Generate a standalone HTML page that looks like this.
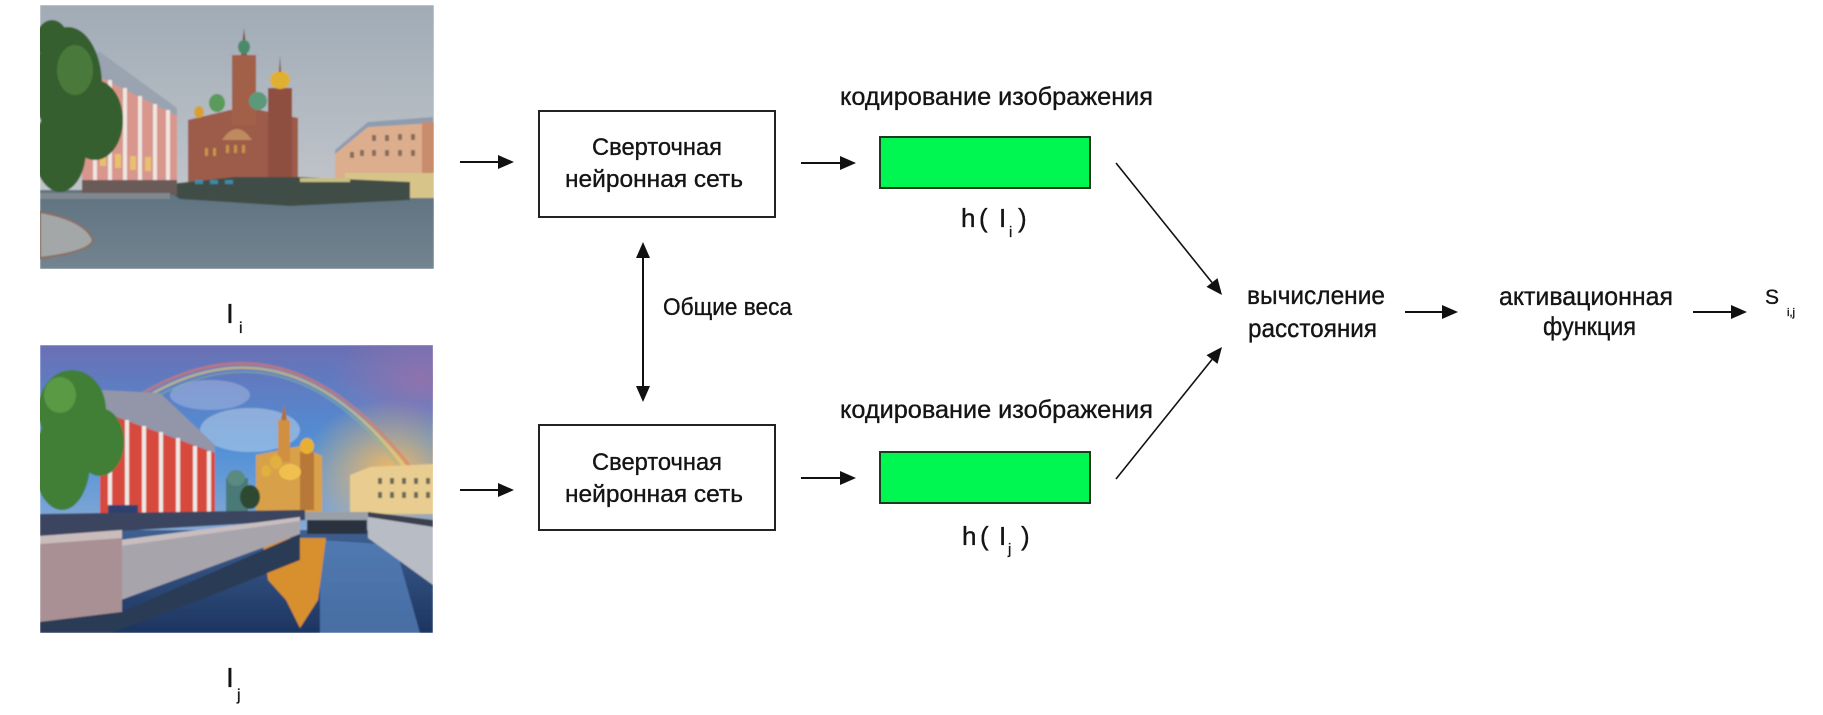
<!DOCTYPE html>
<html>
<head>
<meta charset="utf-8">
<style>
html,body{margin:0;padding:0;background:#fff;}
body{width:1823px;height:715px;overflow:hidden;}
svg{display:block;}
text{font-family:"Liberation Sans","DejaVu Sans",sans-serif;fill:#141414;stroke:#141414;stroke-width:0.35;}
</style>
</head>
<body>
<svg width="1823" height="715" viewBox="0 0 1823 715" xmlns="http://www.w3.org/2000/svg">
<defs>
  <clipPath id="c1"><rect x="40" y="5" width="394" height="264"/></clipPath>
  <clipPath id="c2"><rect x="40" y="345" width="393" height="288"/></clipPath>
  <linearGradient id="sky1" x1="0" y1="0" x2="0" y2="1">
    <stop offset="0" stop-color="#a0abb6"/>
    <stop offset="0.7" stop-color="#c0c4ca"/>
    <stop offset="1" stop-color="#d2cbc8"/>
  </linearGradient>
  <linearGradient id="gr1" x1="0" y1="0" x2="0" y2="1">
    <stop offset="0" stop-color="#5f7280"/>
    <stop offset="1" stop-color="#72848f"/>
  </linearGradient>
  <linearGradient id="sky2" x1="0" y1="0" x2="0" y2="1">
    <stop offset="0" stop-color="#6a6fb4"/>
    <stop offset="0.35" stop-color="#4f8fd6"/>
    <stop offset="0.75" stop-color="#9ab4d6"/>
    <stop offset="1" stop-color="#e0c0a0"/>
  </linearGradient>
  <radialGradient id="sun2" cx="0.5" cy="0.5" r="0.5">
    <stop offset="0" stop-color="#f6b860" stop-opacity="0.95"/>
    <stop offset="1" stop-color="#f6b860" stop-opacity="0"/>
  </radialGradient>
  <radialGradient id="pur2" cx="0.5" cy="0.5" r="0.5">
    <stop offset="0" stop-color="#9a70a8" stop-opacity="0.8"/>
    <stop offset="1" stop-color="#9a70a8" stop-opacity="0"/>
  </radialGradient>
  <linearGradient id="wat2" x1="0" y1="0" x2="0" y2="1">
    <stop offset="0" stop-color="#3d5f90"/>
    <stop offset="1" stop-color="#1d3460"/>
  </linearGradient>
  <filter id="soft"><feGaussianBlur stdDeviation="0.8"/></filter>
</defs>

<!-- Photo 1 -->
<g clip-path="url(#c1)" filter="url(#soft)">
  <rect x="40" y="5" width="394" height="264" fill="url(#sky1)"/>
  <rect x="40" y="190" width="394" height="79" fill="url(#gr1)"/>
  <polygon points="335,150 368,122 433,117 433,180 335,180" fill="#dcae8e"/>
  <polygon points="335,150 368,122 433,117 433,123 368,127 335,154" fill="#8e9cb0"/>
  <g fill="#8a6a5a">
    <rect x="372" y="135" width="4" height="6"/><rect x="385" y="135" width="4" height="6"/><rect x="398" y="134" width="4" height="6"/><rect x="411" y="134" width="4" height="6"/>
    <rect x="372" y="150" width="4" height="6"/><rect x="385" y="150" width="4" height="6"/><rect x="398" y="150" width="4" height="6"/><rect x="411" y="150" width="4" height="6"/>
    <rect x="350" y="152" width="4" height="6"/><rect x="360" y="150" width="4" height="6"/>
  </g>
  <rect x="422" y="122" width="12" height="55" fill="#c98c6c"/>
  <rect x="345" y="173" width="89" height="25" fill="#d7c489"/>
  <polygon points="188,120 230,110 260,110 298,118 298,182 188,182" fill="#9c5b48"/>
  <rect x="232" y="55" width="24" height="70" fill="#a2604a"/>
  <polygon points="241,55 244,28 247,55" fill="#7a5040"/>
  <ellipse cx="244" cy="47" rx="6" ry="7" fill="#4a8a6a"/>
  <rect x="268" y="88" width="24" height="94" fill="#8f5040"/>
  <ellipse cx="280" cy="80" rx="10" ry="9" fill="#e0b030"/>
  <polygon points="279,72 280,55 281,72" fill="#7a5040"/>
  <ellipse cx="217" cy="103" rx="8" ry="9" fill="#5a9a5a"/>
  <ellipse cx="258" cy="101" rx="9" ry="9" fill="#5a9a7a"/>
  <ellipse cx="199" cy="112" rx="5" ry="6" fill="#d8a030"/>
  <path d="M222,140 Q237,118 252,140 Z" fill="#c08a60"/>
  <g fill="#c9944a"><rect x="226" y="145" width="3" height="8"/><rect x="234" y="145" width="3" height="8"/><rect x="242" y="145" width="3" height="8"/><rect x="205" y="148" width="3" height="8"/><rect x="213" y="148" width="3" height="8"/></g>
  <polygon points="160,185 235,177 300,177 410,182 410,200 290,206 180,199" fill="#3f4d47"/>
  <g fill="#3a8aa8"><rect x="195" y="180" width="8" height="4"/><rect x="210" y="180" width="8" height="4"/><rect x="225" y="180" width="8" height="4"/></g>
  <rect x="300" y="178" width="50" height="4" fill="#c8c080"/>
  <polygon points="82,55 100,52 177,108 177,116 82,68" fill="#9aa3b0"/>
  <polygon points="82,68 177,116 177,194 82,194" fill="#d8968d"/>
  <g stroke="#efe6e0" stroke-width="4">
    <line x1="95" y1="72" x2="95" y2="194"/><line x1="110" y1="80" x2="110" y2="194"/><line x1="125" y1="88" x2="125" y2="194"/>
    <line x1="140" y1="96" x2="140" y2="194"/><line x1="155" y1="104" x2="155" y2="194"/><line x1="168" y1="110" x2="168" y2="194"/>
  </g>
  <g fill="#e8c070"><rect x="100" y="152" width="6" height="14"/><rect x="115" y="154" width="6" height="14"/><rect x="130" y="156" width="6" height="14"/><rect x="145" y="157" width="6" height="14"/></g>
  <rect x="82" y="180" width="95" height="15" fill="#6a5a58"/>
  <g fill="#355f2e">
    <ellipse cx="68" cy="85" rx="34" ry="58"/>
    <ellipse cx="95" cy="120" rx="28" ry="40"/>
    <ellipse cx="60" cy="150" rx="26" ry="42"/>
    <ellipse cx="52" cy="40" rx="16" ry="20"/>
  </g>
  <ellipse cx="75" cy="70" rx="18" ry="25" fill="#4a7a3a"/>
  <path d="M40,212 Q85,220 93,240 Q90,252 40,258 Z" fill="#a3a7a8" stroke="#8c6d60" stroke-width="2"/>
  <rect x="40" y="193" width="130" height="6" fill="#7f888e"/>
</g>

<!-- Photo 2 -->
<g clip-path="url(#c2)" filter="url(#soft)">
  <rect x="40" y="345" width="393" height="288" fill="url(#sky2)"/>
  <ellipse cx="420" cy="380" rx="90" ry="60" fill="url(#pur2)"/>
  <ellipse cx="390" cy="470" rx="90" ry="70" fill="url(#sun2)"/>
  <ellipse cx="250" cy="430" rx="50" ry="22" fill="#d0e0f0" opacity="0.45"/>
  <ellipse cx="210" cy="395" rx="40" ry="15" fill="#c8d8ee" opacity="0.35"/>
  <path d="M135,398 Q290,300 420,480" fill="none" stroke="#e87860" stroke-width="3" opacity="0.6"/>
  <path d="M138,402 Q290,305 416,482" fill="none" stroke="#f0d870" stroke-width="3" opacity="0.55"/>
  <path d="M141,406 Q290,310 412,484" fill="none" stroke="#80c0a0" stroke-width="2" opacity="0.45"/>
  <polygon points="350,475 370,467 433,464 433,514 350,514" fill="#e8cc90"/>
  <g fill="#6a6a5a"><rect x="378" y="478" width="4" height="6"/><rect x="390" y="478" width="4" height="6"/><rect x="402" y="478" width="4" height="6"/><rect x="414" y="478" width="4" height="6"/><rect x="426" y="478" width="4" height="6"/>
  <rect x="378" y="492" width="4" height="6"/><rect x="390" y="492" width="4" height="6"/><rect x="402" y="492" width="4" height="6"/><rect x="414" y="492" width="4" height="6"/><rect x="426" y="492" width="4" height="6"/></g>
  <polygon points="256,455 300,446 322,456 322,514 256,514" fill="#d8a04a"/>
  <rect x="278" y="420" width="12" height="42" fill="#d09040"/>
  <polygon points="281,420 284,404 287,420" fill="#b07030"/>
  <rect x="300" y="452" width="14" height="58" fill="#b87838"/>
  <ellipse cx="307" cy="446" rx="7" ry="8" fill="#e8b030"/>
  <ellipse cx="276" cy="462" rx="6" ry="7" fill="#e0b040"/>
  <ellipse cx="266" cy="471" rx="5" ry="6" fill="#e0b040"/>
  <ellipse cx="290" cy="472" rx="11" ry="8" fill="#f0c050"/>
  <rect x="226" y="478" width="22" height="38" fill="#4a7a78"/>
  <ellipse cx="236" cy="478" rx="9" ry="8" fill="#5a8a80"/>
  <ellipse cx="250" cy="497" rx="10" ry="12" fill="#2f4a30"/>
  <polygon points="100,390 160,393 215,445 215,453 100,411" fill="#9296a8"/>
  <polygon points="100,411 215,453 215,520 100,520" fill="#d8483c"/>
  <g stroke="#efe8e6" stroke-width="4">
    <line x1="110" y1="414" x2="110" y2="520"/><line x1="127" y1="420" x2="127" y2="520"/><line x1="144" y1="426" x2="144" y2="520"/>
    <line x1="161" y1="432" x2="161" y2="520"/><line x1="178" y1="438" x2="178" y2="520"/><line x1="195" y1="446" x2="195" y2="520"/><line x1="209" y1="451" x2="209" y2="520"/>
  </g>
  <rect x="108" y="505" width="30" height="15" fill="#2e4070"/>
  <g fill="#3f7f35">
    <ellipse cx="72" cy="410" rx="34" ry="40"/>
    <ellipse cx="62" cy="462" rx="28" ry="48"/>
    <ellipse cx="100" cy="442" rx="24" ry="34"/>
  </g>
  <ellipse cx="60" cy="395" rx="16" ry="18" fill="#5a9a45"/>
  <rect x="40" y="530" width="393" height="103" fill="url(#wat2)"/>
  <polygon points="320,540 395,545 420,633 320,633" fill="#5a86c0" opacity="0.7"/>
  <polygon points="262,538 326,538 318,600 300,628 286,600 268,580" fill="#d8902e"/>
  <rect x="303" y="512" width="68" height="8" fill="#9aa0a8"/>
  <rect x="307" y="520" width="60" height="14" fill="#2a3040"/>
  <polygon points="40,514 305,510 305,520 120,531 40,536" fill="#3a4560"/>
  <polygon points="120,540 300,517 300,534 110,604" fill="#a8a4ac"/>
  <polygon points="120,540 300,517 300,521 120,546" fill="#c8bec0"/>
  <polygon points="40,536 122,530 122,612 40,622" fill="#a89094"/>
  <polygon points="40,536 122,530 122,538 40,544" fill="#cbbcbc"/>
  <polygon points="40,622 122,612 300,534 300,560 200,600 110,633 40,633" fill="#2a3a55"/>
  <polygon points="368,512 433,520 433,527 368,517" fill="#3a4050"/>
  <polygon points="368,517 433,527 433,585 368,538" fill="#b8bcc4"/>
</g>

<!-- Image labels -->
<text x="226" y="323" font-size="28">I</text>
<text x="239" y="333" font-size="16">i</text>
<text x="226" y="687" font-size="28">I</text>
<text x="237" y="700" font-size="16">j</text>

<!-- CNN boxes -->
<rect x="539" y="111" width="236" height="106" fill="#fff" stroke="#222" stroke-width="2"/>
<text x="592" y="155" font-size="24" textLength="130" lengthAdjust="spacingAndGlyphs">Сверточная</text>
<text x="565" y="187" font-size="24" textLength="178" lengthAdjust="spacingAndGlyphs">нейронная сеть</text>

<rect x="539" y="425" width="236" height="105" fill="#fff" stroke="#222" stroke-width="2"/>
<text x="592" y="470" font-size="24" textLength="130" lengthAdjust="spacingAndGlyphs">Сверточная</text>
<text x="565" y="502" font-size="24" textLength="178" lengthAdjust="spacingAndGlyphs">нейронная сеть</text>

<!-- Shared weights -->
<line x1="643" y1="256" x2="643" y2="388" stroke="#111" stroke-width="2"/>
<polygon points="643,242 636,258 650,258" fill="#111"/>
<polygon points="643,402 636,386 650,386" fill="#111"/>
<text x="663" y="315" font-size="24" textLength="129" lengthAdjust="spacingAndGlyphs">Общие веса</text>

<!-- encoding labels -->
<text x="840" y="105" font-size="25" textLength="313" lengthAdjust="spacingAndGlyphs">кодирование изображения</text>
<text x="840" y="418" font-size="25" textLength="313" lengthAdjust="spacingAndGlyphs">кодирование изображения</text>

<!-- green boxes -->
<rect x="880" y="137" width="210" height="51" fill="#00f752" stroke="#1d3a1d" stroke-width="2"/>
<rect x="880" y="452" width="210" height="51" fill="#00f752" stroke="#1d3a1d" stroke-width="2"/>

<!-- h labels -->
<text x="961" y="227" font-size="26">h</text>
<text x="979" y="227" font-size="26">(</text>
<text x="999" y="227" font-size="26">I</text>
<text x="1009" y="237" font-size="15">i</text>
<text x="1018" y="227" font-size="26">)</text>

<text x="962" y="545" font-size="26">h</text>
<text x="980" y="545" font-size="26">(</text>
<text x="999" y="545" font-size="26">I</text>
<text x="1008" y="554" font-size="15">j</text>
<text x="1021" y="545" font-size="26">)</text>

<!-- horizontal arrows -->
<g stroke="#111" stroke-width="2">
  <line x1="460" y1="162" x2="500" y2="162"/>
  <line x1="801" y1="163" x2="842" y2="163"/>
  <line x1="460" y1="490" x2="500" y2="490"/>
  <line x1="801" y1="478" x2="842" y2="478"/>
  <line x1="1405" y1="312" x2="1444" y2="312"/>
  <line x1="1693" y1="312" x2="1733" y2="312"/>
</g>
<g fill="#111">
  <polygon points="514,162 498,155 498,169"/>
  <polygon points="856,163 840,156 840,170"/>
  <polygon points="514,490 498,483 498,497"/>
  <polygon points="856,478 840,471 840,485"/>
  <polygon points="1458,312 1442,305 1442,319"/>
  <polygon points="1747,312 1731,305 1731,319"/>
</g>

<!-- diagonal arrows -->
<line x1="1116" y1="163" x2="1212" y2="282.5" stroke="#111" stroke-width="1.6"/>
<polygon points="1222,295 1206.5,286.9 1217.5,278.1" fill="#111"/>
<line x1="1116" y1="479" x2="1212" y2="359.5" stroke="#111" stroke-width="1.6"/>
<polygon points="1222,347 1217.5,363.9 1206.5,355.1" fill="#111"/>

<!-- distance -->
<text x="1247" y="304" font-size="26" textLength="138" lengthAdjust="spacingAndGlyphs">вычисление</text>
<text x="1248" y="337" font-size="26" textLength="129" lengthAdjust="spacingAndGlyphs">расстояния</text>

<!-- activation -->
<text x="1499" y="305" font-size="26" textLength="174" lengthAdjust="spacingAndGlyphs">активационная</text>
<text x="1543" y="335" font-size="26" textLength="93" lengthAdjust="spacingAndGlyphs">функция</text>

<!-- S i,j -->
<text x="1765" y="304" font-size="21">S</text>
<text x="1787" y="316" font-size="11">i,j</text>
</svg>
</body>
</html>
